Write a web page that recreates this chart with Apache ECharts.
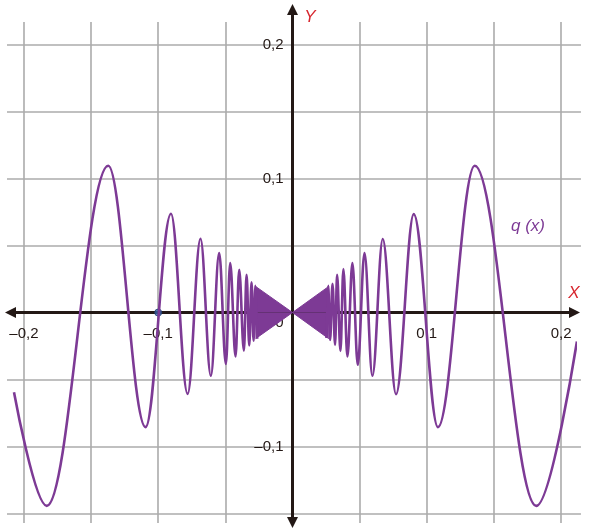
<!DOCTYPE html>
<html><head><meta charset="utf-8">
<script src="https://cdn.jsdelivr.net/npm/echarts@6/dist/echarts.min.js"></script>
<style>html,body{margin:0;padding:0;background:#fff}#c{width:591px;height:530px}</style>
</head><body><div id="c"></div>
<script>
// ---- tick labels / grid values ----
const xTickValues = [-0.2, -0.1, 0.1, 0.2];
const xTickLabels = ['–0,2', '–0,1', '0,1', '0,2'];
const yTickValues = [-0.1, 0, 0.1, 0.2];
const yTickLabels = ['–0,1', '0', '0,1', '0,2'];
const gridXValues = [-0.2, -0.15, -0.1, -0.05, 0.05, 0.1, 0.15, 0.2];
const gridYValues = [-0.15, -0.1, -0.05, 0.05, 0.1, 0.15, 0.2];
const gridXExtent = [-0.2126, 0.2148];
const gridYExtent = [-0.157, 0.2167];

// ---- curve q(x): end points and turning points ----
const leftCurve = [
  [-0.2074, -0.0594], [-0.183, -0.1442], [-0.1372, 0.1095], [-0.1094, -0.0855],
  [-0.0905, 0.0737], [-0.0781, -0.0607], [-0.0685, 0.055], [-0.0608, -0.0472],
  [-0.0546, 0.0443], [-0.0496, -0.0383], [-0.0464, 0.0369], [-0.0424, -0.0328],
  [-0.0397, 0.0319], [-0.0362, -0.0284], [-0.0342, 0.0281], [-0.0322, -0.0245],
  [-0.0305, 0.0225], [-0.029, -0.021], [-0.0276, 0.02], [-0.0263, -0.0195]
];
const rightCurve = [
  [0.0253, -0.019], [0.0266, 0.02], [0.028, -0.0204], [0.0298, 0.0215],
  [0.0317, -0.0241], [0.0332, 0.0281], [0.0357, -0.0286], [0.0379, 0.0324],
  [0.0409, -0.0328], [0.0446, 0.0369], [0.0486, -0.039], [0.0536, 0.0443],
  [0.0595, -0.0472], [0.0672, 0.0548], [0.0771, -0.0609], [0.0903, 0.0734],
  [0.1083, -0.0855], [0.1357, 0.1095], [0.1815, -0.1442], [0.2118, -0.0216]
];
// dense oscillation near the origin (drawn as a solid wedge in the picture)
const wedgeUpper = [[-0.0275, 0.0195], [0, 0], [0.027, 0.0195]];
const wedgeLower = [[-0.0275, -0.0195], [0, 0], [0.027, -0.0195]];
const markedPoints = [[-0.1, 0]];
const seriesName = 'q (x)';

const PURPLE = '#7d3a95';
const INK = '#231815';
const FONT = '"Liberation Sans", Arial, sans-serif';

const chart = echarts.init(document.getElementById('c'), null, {renderer: 'canvas'});

const gridLineData = gridXValues.map(v => ({coords: [[v, gridYExtent[0]], [v, gridYExtent[1]]]}))
  .concat(gridYValues.map(v => ({coords: [[gridXExtent[0], v], [gridXExtent[1], v]]})));

const xLabelData = xTickValues.map((v, i) => ({value: [v, 0], label: {formatter: xTickLabels[i]}}));
const yLabelData = yTickValues.map((v, i) => ({
  value: [0, v],
  label: Math.abs(v) < 1e-9 ? {formatter: yTickLabels[i], offset: [0, 10]} : {formatter: yTickLabels[i]}
}));

const curveStyle = {
  type: 'line', smooth: 0.36, smoothMonotone: 'x', showSymbol: false, symbol: 'none', clip: false, z: 5,
  lineStyle: {color: PURPLE, width: 2.6}, silent: true
};
const labelText = {show: true, color: INK, fontFamily: FONT, fontSize: 15, opacity: 1};
const hiddenItem = {color: 'rgba(0,0,0,0)', borderWidth: 0};

chart.setOption({
  animation: false,
  backgroundColor: '#ffffff',
  grid: {left: 10.5, right: 16.5, top: 9.5, bottom: 7.5, containLabel: false, outerBoundsMode: 'none'},
  xAxis: {
    type: 'value', min: -0.21, max: 0.21, z: 2,
    axisLine: {onZero: true, lineStyle: {color: INK, width: 3}, symbol: ['triangle', 'triangle'], symbolSize: [11, 11]},
    axisTick: {show: false}, splitLine: {show: false}, axisLabel: {show: false}
  },
  yAxis: {
    type: 'value', min: -0.1566, max: 0.226, z: 2,
    axisLine: {onZero: true, lineStyle: {color: INK, width: 3}, symbol: ['triangle', 'triangle'], symbolSize: [11, 11]},
    axisTick: {show: false}, splitLine: {show: false}, axisLabel: {show: false}
  },
  graphic: [
    {type: 'text', x: 574, y: 293, z: 10, style: {text: 'X', fill: '#d7262e', font: 'italic 17px ' + FONT, textAlign: 'center', textVerticalAlign: 'middle'}},
    {type: 'text', x: 310, y: 17, z: 10, style: {text: 'Y', fill: '#d7262e', font: 'italic 17px ' + FONT, textAlign: 'center', textVerticalAlign: 'middle'}},
    {type: 'text', x: 528, y: 226, z: 10, style: {text: seriesName, fill: PURPLE, font: 'italic 17px ' + FONT, textAlign: 'center', textVerticalAlign: 'middle'}}
  ],
  series: [
    {type: 'lines', coordinateSystem: 'cartesian2d', z: -1, silent: true, clip: false,
     lineStyle: {color: '#ababab', width: 1.6, opacity: 1}, data: gridLineData},
    {type: 'scatter', data: xLabelData, symbolSize: 1, z: 1, silent: true, clip: false,
     itemStyle: hiddenItem, label: Object.assign({position: 'bottom', distance: 13}, labelText)},
    {type: 'scatter', data: yLabelData, symbolSize: 1, z: 1, silent: true, clip: false,
     itemStyle: hiddenItem, label: Object.assign({position: 'left', distance: 8.5}, labelText)},
    {type: 'scatter', data: markedPoints, symbolSize: 7, z: 3, silent: true,
     itemStyle: {color: '#3a64a8', borderColor: '#1f3d72', borderWidth: 1}},
    Object.assign({}, curveStyle, {name: seriesName, data: leftCurve}),
    Object.assign({}, curveStyle, {name: seriesName, data: rightCurve}),
    {type: 'line', data: wedgeUpper, showSymbol: false, symbol: 'none', z: 5, silent: true, clip: false,
     lineStyle: {color: PURPLE, width: 1}, areaStyle: {color: PURPLE, opacity: 1}},
    {type: 'line', data: wedgeLower, showSymbol: false, symbol: 'none', z: 5, silent: true, clip: false,
     lineStyle: {color: PURPLE, width: 1}, areaStyle: {color: PURPLE, opacity: 1}}
  ]
});
</script>
</body></html>
